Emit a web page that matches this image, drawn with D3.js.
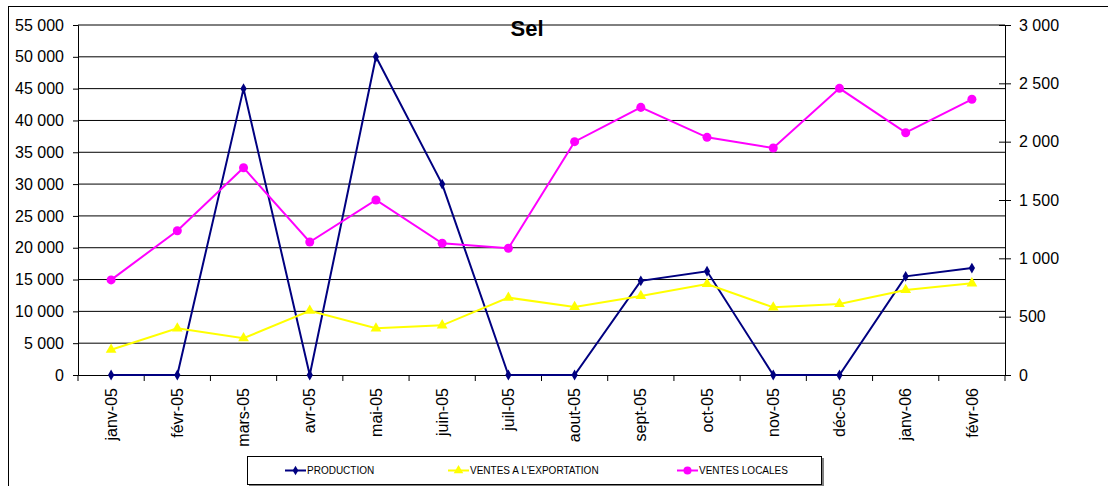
<!DOCTYPE html>
<html>
<head>
<meta charset="utf-8">
<script src="https://cdn.jsdelivr.net/npm/d3@7"></script>
<style>
  body { margin: 0; background: #fff; }
  svg { display: block; font-family: "Liberation Sans", Arial, sans-serif; }
</style>
</head>
<body>
<div id="chart"></div>
<script>
const months = ["janv-05", "févr-05", "mars-05", "avr-05", "mai-05", "juin-05", "juil-05",
  "aout-05", "sept-05", "oct-05", "nov-05", "déc-05", "janv-06", "févr-06"];

// left axis
const production = [0, 0, 45000, 0, 50000, 30000, 0, 0, 14800, 16300, 0, 0, 15500, 16800];
// right axis
const ventesExport = [217, 400, 315, 551, 400, 426, 663, 583, 677, 780, 580, 609, 729, 786];
const ventesLocales = [815, 1237, 1777, 1140, 1500, 1129, 1086, 2000, 2294, 2037, 1946, 2457, 2077, 2363];

const leftTicks = d3.range(0, 55001, 5000);
const rightTicks = d3.range(0, 3001, 500);

const width = 1108, height = 486;
const plot = { left: 78, right: 1005, top: 25, bottom: 375 };

const locale = d3.formatLocale({ decimal: ",", thousands: " ", grouping: [3], currency: ["", ""] });
const fmt = locale.format(",d");

const svg = d3.select("#chart").append("svg")
  .attr("width", width)
  .attr("height", height);

// outer chart border (runs off the right/bottom edge)
svg.append("rect")
  .attr("x", 8.5).attr("y", 6.5)
  .attr("width", 1120).attr("height", 500)
  .attr("fill", "#fff").attr("stroke", "#000");

const x = d3.scaleBand().domain(months).range([plot.left, plot.right]);
const cx = (d) => x(d) + x.bandwidth() / 2;
const yL = d3.scaleLinear().domain([0, 55000]).range([plot.bottom, plot.top]);
const yR = d3.scaleLinear().domain([0, 3000]).range([plot.bottom, plot.top]);

// gridlines
svg.append("g")
  .selectAll("line")
  .data(leftTicks.slice(1))
  .join("line")
  .attr("x1", plot.left).attr("x2", plot.right)
  .attr("y1", (d) => yL(d)).attr("y2", (d) => yL(d))
  .attr("stroke", "#000").attr("stroke-width", 1);

// left axis
const gL = svg.append("g")
  .attr("transform", `translate(${plot.left},0)`)
  .call(d3.axisLeft(yL).tickValues(leftTicks).tickFormat(fmt).tickSize(5).tickPadding(9));
gL.select(".domain").attr("stroke", "#000");
gL.selectAll("text").attr("font-size", 16).attr("fill", "#000")
  .attr("font-family", "Liberation Sans, Arial, sans-serif");

// right axis
const gR = svg.append("g")
  .attr("transform", `translate(${plot.right},0)`)
  .call(d3.axisRight(yR).tickValues(rightTicks).tickFormat(fmt).tickSize(6).tickPadding(8));
gR.select(".domain").attr("stroke", "#000");
gR.selectAll(".tick line").attr("x1", -6);
gR.selectAll("text").attr("font-size", 16).attr("fill", "#000")
  .attr("font-family", "Liberation Sans, Arial, sans-serif");

// bottom axis
const gB = svg.append("g")
  .attr("transform", `translate(0,${plot.bottom})`)
  .call(d3.axisBottom(x).tickSize(0).tickSizeOuter(0));
gB.select(".domain").attr("stroke", "#000");
gB.selectAll("text")
  .attr("font-size", 16).attr("fill", "#000")
  .attr("font-family", "Liberation Sans, Arial, sans-serif")
  .attr("transform", "rotate(-90)")
  .attr("text-anchor", "end")
  .attr("x", -13).attr("y", 0).attr("dy", "0.35em");
gB.append("g")
  .selectAll("line")
  .data(months.map((m) => x(m)).concat([plot.right]))
  .join("line")
  .attr("x1", (d) => d).attr("x2", (d) => d)
  .attr("y1", 0).attr("y2", 6)
  .attr("stroke", "#000");

// series
const series = [
  { name: "PRODUCTION", values: production, y: yL, color: "#000080", symbol: d3.symbolDiamond, size: 34 },
  { name: "VENTES A L'EXPORTATION", values: ventesExport, y: yR, color: "#FFFF00", symbol: d3.symbolTriangle, size: 50 },
  { name: "VENTES LOCALES", values: ventesLocales, y: yR, color: "#FF00FF", symbol: d3.symbolCircle, size: 64 },
];

series.forEach((s) => {
  const pts = months.map((m, i) => [cx(m), s.y(s.values[i])]);
  svg.append("path")
    .attr("d", d3.line()(pts))
    .attr("fill", "none")
    .attr("stroke", s.color)
    .attr("stroke-width", 2);
  svg.append("g")
    .selectAll("path")
    .data(pts)
    .join("path")
    .attr("transform", (d) => `translate(${d})`)
    .attr("d", d3.symbol(s.symbol, s.size))
    .attr("fill", s.color);
});

// title
svg.append("text")
  .attr("x", 527).attr("y", 36)
  .attr("text-anchor", "middle")
  .attr("font-size", 22).attr("font-weight", "bold")
  .text("Sel");

// legend
const legend = svg.append("g");
legend.append("rect")
  .attr("x", 249).attr("y", 458).attr("width", 575).attr("height", 29)
  .attr("fill", "#808080");
legend.append("rect")
  .attr("x", 247.5).attr("y", 456.5).attr("width", 574).attr("height", 28)
  .attr("fill", "#fff").attr("stroke", "#000");

const legendX = [285, 448, 677];
series.forEach((s, i) => {
  const g = legend.append("g").attr("transform", `translate(${legendX[i]},470.5)`);
  g.append("line").attr("x1", 0).attr("x2", 21)
    .attr("stroke", s.color).attr("stroke-width", 2);
  g.append("path").attr("transform", "translate(10.5,0)")
    .attr("d", d3.symbol(s.symbol, s.size * 0.8))
    .attr("fill", s.color);
  g.append("text").attr("x", 22).attr("dy", "0.35em")
    .attr("font-size", 10).text(s.name);
});
</script>
</body>
</html>
